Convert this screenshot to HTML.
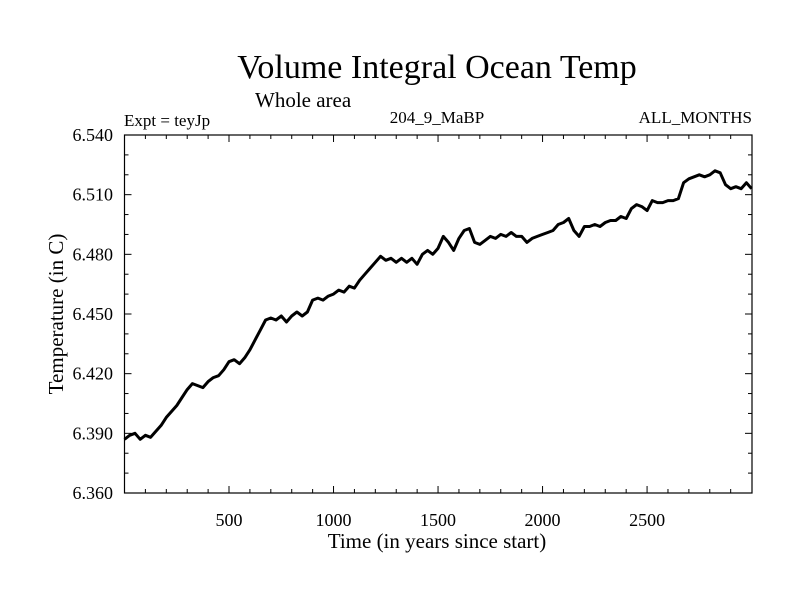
<!DOCTYPE html>
<html><head><meta charset="utf-8"><style>
html,body{margin:0;padding:0;background:#fff;}
svg{display:block;font-family:"Liberation Serif",serif;}
</style></head><body>
<svg id="chart" width="800" height="600" viewBox="0 0 800 600">
<text x="437" y="78" font-size="34" text-anchor="middle">Volume Integral Ocean Temp</text>
<text x="255" y="107" font-size="21">Whole area</text>
<text x="124" y="126" font-size="17">Expt = teyJp</text>
<text x="437" y="123" font-size="17" text-anchor="middle">204_9_MaBP</text>
<text x="752" y="123" font-size="17" text-anchor="end">ALL_MONTHS</text>
<text x="437" y="548" font-size="21" text-anchor="middle">Time (in years since start)</text>
<text transform="translate(63,314) rotate(-90)" font-size="21" text-anchor="middle">Temperature (in C)</text>
<g id="axes"></g>
<path id="series" fill="none" stroke="#000" stroke-width="3" stroke-linejoin="round"></path>
<rect x="124.5" y="135" width="627.5" height="358" fill="none" stroke="#000" stroke-width="1.2"/>
</svg>
<script>
const years = [0,25,50,75,100,125,150,175,200,225,250,275,300,325,350,375,400,425,450,475,500,525,550,575,600,625,650,675,700,725,750,775,800,825,850,875,900,925,950,975,1000,1025,1050,1075,1100,1125,1150,1175,1200,1225,1250,1275,1300,1325,1350,1375,1400,1425,1450,1475,1500,1525,1550,1575,1600,1625,1650,1675,1700,1725,1750,1775,1800,1825,1850,1875,1900,1925,1950,1975,2000,2025,2050,2075,2100,2125,2150,2175,2200,2225,2250,2275,2300,2325,2350,2375,2400,2425,2450,2475,2500,2525,2550,2575,2600,2625,2650,2675,2700,2725,2750,2775,2800,2825,2850,2875,2900,2925,2950,2975,3000];
const temps = [6.387,6.389,6.390,6.387,6.389,6.388,6.391,6.394,6.398,6.401,6.404,6.408,6.412,6.415,6.414,6.413,6.416,6.418,6.419,6.422,6.426,6.427,6.425,6.428,6.432,6.437,6.442,6.447,6.448,6.447,6.449,6.446,6.449,6.451,6.449,6.451,6.457,6.458,6.457,6.459,6.460,6.462,6.461,6.464,6.463,6.467,6.470,6.473,6.476,6.479,6.477,6.478,6.476,6.478,6.476,6.478,6.475,6.480,6.482,6.480,6.483,6.489,6.486,6.482,6.488,6.492,6.493,6.486,6.485,6.487,6.489,6.488,6.490,6.489,6.491,6.489,6.489,6.486,6.488,6.489,6.490,6.491,6.492,6.495,6.496,6.498,6.492,6.489,6.494,6.494,6.495,6.494,6.496,6.497,6.497,6.499,6.498,6.503,6.505,6.504,6.502,6.507,6.506,6.506,6.507,6.507,6.508,6.516,6.518,6.519,6.520,6.519,6.520,6.522,6.521,6.515,6.513,6.514,6.513,6.516,6.513];
const xTicks = [500,1000,1500,2000,2500];
const yTicks = [6.360,6.390,6.420,6.450,6.480,6.510,6.540];
const yTickLabels = ["6.360","6.390","6.420","6.450","6.480","6.510","6.540"];

const X0=124.5,X1=752,Y0=493,Y1=135;
const xMin=0,xMax=3002,yMin=6.36,yMax=6.54;
function sx(v){return X0+(v-xMin)/(xMax-xMin)*(X1-X0);}
function sy(v){return Y0-(v-yMin)/(yMax-yMin)*(Y0-Y1);}
const NS="http://www.w3.org/2000/svg";
const axes=document.getElementById('axes');
function line(x1,y1,x2,y2,name){
  const l=document.createElementNS(NS,'line');
  l.setAttribute('x1',x1);l.setAttribute('y1',y1);l.setAttribute('x2',x2);l.setAttribute('y2',y2);
  l.setAttribute('stroke','#000');l.setAttribute('stroke-width','1');
  
  
  axes.appendChild(l);
}
function text(x,y,s,anchor,name){
  const t=document.createElementNS(NS,'text');
  t.setAttribute('x',x);t.setAttribute('y',y);t.setAttribute('font-size','18');t.setAttribute('text-anchor',anchor);
  t.textContent=s;
  
  
  axes.appendChild(t);
}
for(let v=100;v<3000;v+=100){
  const major=v%500===0, len=major?7:4, x=sx(v);
  line(x,Y0,x,Y0-len,'x-tick');
  line(x,Y1,x,Y1+len,'x-tick-top');
}
xTicks.forEach(v=>text(sx(v),526,String(v),'middle','x-tick-label'));
for(let i=1;i<18;i++){
  const v=yMin+i*0.01, major=i%3===0, len=major?7:4, y=sy(v);
  line(X0,y,X0+len,y,'y-tick');
  line(X1,y,X1-len,y,'y-tick-right');
}
yTicks.forEach((v,i)=>text(113,sy(v)+6,yTickLabels[i],'end','y-tick-label'));
let d='';
years.forEach((yr,i)=>{d+=(i?'L':'M')+sx(yr).toFixed(1)+' '+sy(temps[i]).toFixed(1);});
document.getElementById('series').setAttribute('d',d);
</script>
</body></html>
